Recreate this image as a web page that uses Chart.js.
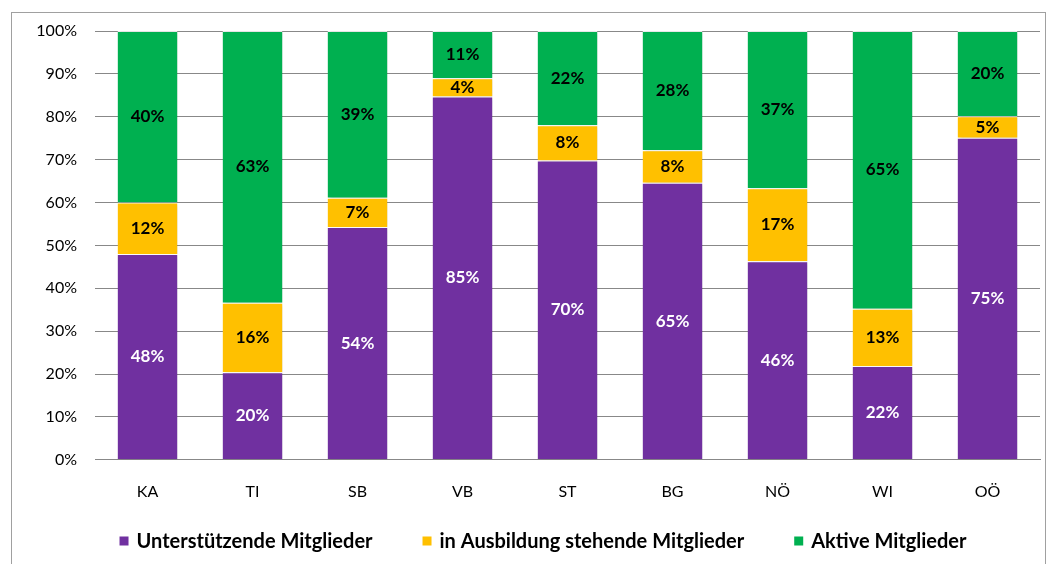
<!DOCTYPE html>
<html>
<head>
<meta charset="utf-8">
<script src="https://cdn.jsdelivr.net/npm/chart.js@4"></script>
<style>
  html, body { margin: 0; padding: 0; background: #fff; }
  #wrap { position: relative; width: 1057px; height: 564px; overflow: hidden; }
  #frame { position: absolute; left: 11px; top: 12px; width: 1033px; height: 600px;
           border: 1px solid #a0a0a0; border-bottom: none; }
  canvas { position: absolute; left: 0; top: 0; }
</style>
</head>
<body>
<div id="wrap">
  <div id="frame"></div>
  <canvas id="chart" width="1057" height="564"></canvas>
</div>
<script>
// Kategorien (Bundesländer)
const categories = ["KA", "TI", "SB", "VB", "ST", "BG", "NÖ", "WI", "OÖ"];

// Anteile je Mitgliederart in %
const unterstuetzend = [48, 20.4, 54.3, 84.7, 69.8, 64.6, 46.3, 21.9, 75.1];
const inAusbildung   = [12, 16.2, 6.8, 4.3, 8.2, 7.6, 17, 13.3, 5];
const aktiv          = [40, 63.4, 38.9, 11, 22, 27.8, 36.7, 64.8, 19.9];

// Beschriftungen, wie im Original gerundet
const labelsUnterstuetzend = ["48%", "20%", "54%", "85%", "70%", "65%", "46%", "22%", "75%"];
const labelsAusbildung     = ["12%", "16%", "7%", "4%", "8%", "8%", "17%", "13%", "5%"];
const labelsAktiv          = ["40%", "63%", "39%", "11%", "22%", "28%", "37%", "65%", "20%"];

const yTicks = [0, 10, 20, 30, 40, 50, 60, 70, 80, 90, 100];

const FONT = "Lato, 'Open Sans', sans-serif";

// leichter Schatten an den Balken wie in Excel
const barShadow = {
  id: "barShadow",
  beforeDatasetsDraw(chart) {
    const ctx = chart.ctx;
    ctx.save();
    ctx.shadowColor = "rgba(0,0,0,0.22)";
    ctx.shadowOffsetX = 2;
    ctx.shadowOffsetY = 1;
    ctx.shadowBlur = 3;
  },
  afterDatasetsDraw(chart) {
    chart.ctx.restore();
  }
};

// eigene Datenbeschriftung in der Mitte jedes Segments
const segmentLabels = {
  id: "segmentLabels",
  afterDatasetsDraw(chart) {
    const ctx = chart.ctx;
    ctx.save();
    ctx.font = "bold 17px " + FONT;
    ctx.textAlign = "center";
    ctx.textBaseline = "middle";
    chart.data.datasets.forEach((ds, i) => {
      const meta = chart.getDatasetMeta(i);
      meta.data.forEach((bar, j) => {
        const p = bar.getProps(["x", "y", "base"], true);
        ctx.fillStyle = ds.labelColor;
        ctx.fillText(ds.valueLabels[j], p.x, (p.y + p.base) / 2);
      });
    });
    ctx.restore();
  }
};

// Legende unten, selbst gezeichnet damit die Abstände passen
const bottomLegend = {
  id: "bottomLegend",
  afterDraw(chart) {
    const ctx = chart.ctx;
    const box = 9, gapText = 8, gapItem = 50;
    ctx.save();
    ctx.font = "bold 20px " + FONT;
    ctx.textBaseline = "middle";
    const items = chart.data.datasets.map(ds => ({
      text: ds.label, color: ds.backgroundColor, w: ctx.measureText(ds.label).width
    }));
    const total = items.reduce((s, it) => s + box + gapText + it.w, 0) + gapItem * (items.length - 1);
    let x = 543 - total / 2;
    const y = 541;
    items.forEach(it => {
      ctx.fillStyle = it.color;
      ctx.fillRect(x, y - box / 2, box, box);
      x += box + gapText;
      ctx.fillStyle = "#000";
      ctx.fillText(it.text, x, y + 1);
      x += it.w + gapItem;
    });
    ctx.restore();
  }
};

new Chart(document.getElementById("chart"), {
  type: "bar",
  data: {
    labels: categories,
    datasets: [
      {
        label: "Unterstützende Mitglieder",
        data: unterstuetzend,
        valueLabels: labelsUnterstuetzend,
        labelColor: "#ffffff",
        backgroundColor: "#7030A0"
      },
      {
        label: "in Ausbildung stehende Mitglieder",
        data: inAusbildung,
        valueLabels: labelsAusbildung,
        labelColor: "#000000",
        backgroundColor: "#FFC000"
      },
      {
        label: "Aktive Mitglieder",
        data: aktiv,
        valueLabels: labelsAktiv,
        labelColor: "#000000",
        backgroundColor: "#00B050"
      }
    ]
  },
  options: {
    responsive: false,
    animation: false,
    layout: { padding: { left: 20, right: 17, top: 31, bottom: 49 } },
    datasets: {
      bar: {
        categoryPercentage: 1,
        barPercentage: 0.57,
        borderColor: "rgba(255,255,255,0.85)",
        borderWidth: { top: 1, bottom: 0, left: 0, right: 0 },
        borderSkipped: false
      }
    },
    plugins: {
      legend: { display: false },
      tooltip: { enabled: false }
    },
    scales: {
      x: {
        stacked: true,
        grid: { display: false },
        border: { display: true, color: "#888" },
        ticks: { color: "#000", padding: 14, font: { family: FONT, size: 16 } }
      },
      y: {
        stacked: true,
        min: 0,
        max: 100,
        afterFit(scale) { scale.width = 75; },
        afterBuildTicks(scale) { scale.ticks = yTicks.map(v => ({ value: v })); },
        grid: { color: "#888", drawTicks: false },
        border: { display: false },
        ticks: {
          color: "#000",
          padding: 18,
          font: { family: FONT, size: 16 },
          callback: v => v + "%"
        }
      }
    }
  },
  plugins: [barShadow, segmentLabels, bottomLegend]
});
</script>
</body>
</html>
